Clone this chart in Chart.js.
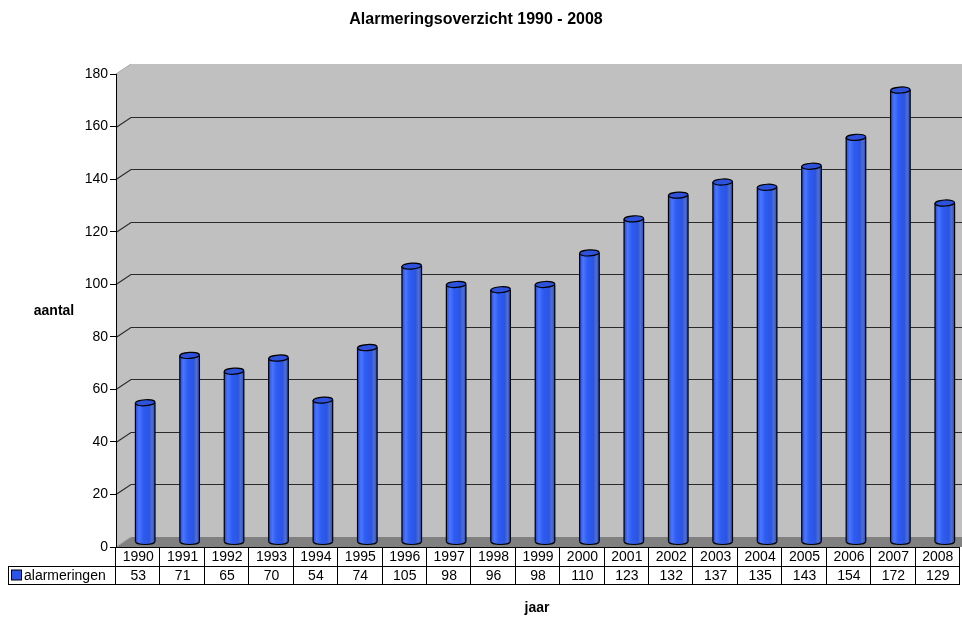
<!DOCTYPE html>
<html>
<head>
<meta charset="utf-8">
<script src="https://cdn.jsdelivr.net/npm/chart.js@4"></script>
<style>
  body { margin: 0; background: #fff; }
  canvas { display: block; }
</style>
</head>
<body>
<canvas id="myChart" width="962" height="617"></canvas>
<script>
var years = ['1990', '1991', '1992', '1993', '1994', '1995', '1996', '1997', '1998', '1999',
             '2000', '2001', '2002', '2003', '2004', '2005', '2006', '2007', '2008'];
var alarmeringen = [53, 71, 65, 70, 54, 74, 105, 98, 96, 98, 110, 123, 132, 137, 135, 143, 154, 172, 129];
var seriesName = 'alarmeringen';
var chartTitle = 'Alarmeringsoverzicht 1990 - 2008';
var yTitle = 'aantal';
var xTitle = 'jaar';

var FONT = 'Arial, "Liberation Sans", sans-serif';
var BLUE = '#2c54e6';
var DX = 15, DY = -10;   // depth of the 3d walls

// back wall, side wall, floor and the gridlines on the wall
var walls = {
  id: 'walls',
  beforeDraw(chart) {
    const c = chart.ctx, a = chart.chartArea, ys = chart.scales.y;
    const right = chart.width;
    c.save();
    c.fillStyle = '#fff';
    c.fillRect(0, 0, chart.width, chart.height);

    // back wall + side wall
    c.fillStyle = '#c0c0c0';
    c.beginPath();
    c.moveTo(a.left, a.top);
    c.lineTo(a.left + DX, a.top + DY);
    c.lineTo(right, a.top + DY);
    c.lineTo(right, a.bottom);
    c.lineTo(a.left, a.bottom);
    c.closePath();
    c.fill();
    c.strokeStyle = '#a8a8a8';
    c.lineWidth = 1;
    c.beginPath();
    c.moveTo(a.left, a.top);
    c.lineTo(a.left + DX, a.top + DY);
    c.stroke();

    // floor
    c.fillStyle = '#808080';
    c.beginPath();
    c.moveTo(a.left, a.bottom);
    c.lineTo(a.left + DX, a.bottom + DY);
    c.lineTo(right, a.bottom + DY);
    c.lineTo(right, a.bottom);
    c.closePath();
    c.fill();
    c.strokeStyle = '#a0a0a0';
    c.beginPath();
    c.moveTo(a.left, a.bottom);
    c.lineTo(a.left + DX, a.bottom + DY);
    c.stroke();

    // gridlines
    c.strokeStyle = '#2a2a2a';
    c.lineWidth = 1.2;
    ys.ticks.forEach(t => {
      if (t.value <= ys.min || t.value >= ys.max) return;
      const y = Math.round(ys.getPixelForValue(t.value)) + 0.5;
      c.beginPath();
      c.moveTo(a.left, y);
      c.lineTo(a.left + DX, y + DY);
      c.lineTo(right, y + DY);
      c.stroke();
    });
    c.restore();
  }
};

// cylinders: shift bars into the depth and add shading, tops and bottoms
var cylinders = {
  id: 'cylinders',
  beforeDatasetsDraw(chart) {
    chart.ctx.save();
    chart.ctx.translate(7, -5);
  },
  afterDatasetsDraw(chart) {
    const c = chart.ctx;
    chart.getDatasetMeta(0).data.forEach(bar => {
      const p = bar.getProps(['x', 'y', 'base', 'width'], true);
      const l = p.x - p.width / 2, r = p.x + p.width / 2;
      const g = c.createLinearGradient(l, 0, r, 0);
      g.addColorStop(0, '#2448d8');
      g.addColorStop(0.18, '#4a76ff');
      g.addColorStop(0.4, '#2e5cf2');
      g.addColorStop(0.7, '#2b54e2');
      g.addColorStop(0.85, '#5070cc');
      g.addColorStop(1, '#2a46b4');
      c.fillStyle = g;
      c.fillRect(l, p.y, p.width, p.base - p.y);
      // bottom
      c.beginPath();
      c.ellipse(p.x, p.base, p.width / 2, 3, 0, 0, Math.PI);
      c.fill();
      c.strokeStyle = '#000';
      c.lineWidth = 1.2;
      c.stroke();
      // sides
      c.beginPath();
      c.moveTo(l, p.y);
      c.lineTo(l, p.base);
      c.moveTo(r, p.y);
      c.lineTo(r, p.base);
      c.stroke();
      // top
      c.beginPath();
      c.ellipse(p.x, p.y, p.width / 2, 3, -0.06, 0, Math.PI * 2);
      c.fillStyle = '#2e52dc';
      c.fill();
      c.stroke();
    });
    c.restore();
  }
};

// data table, legend key, titles
var table = {
  id: 'table',
  afterDraw(chart) {
    const c = chart.ctx, a = chart.chartArea, xs = chart.scales.x;
    const n = years.length;
    const cw = (xs.right - xs.left) / n;
    const y0 = a.bottom, y1 = a.bottom + 18.5, y2 = a.bottom + 37;
    c.save();
    c.strokeStyle = '#000';
    c.lineWidth = 1;
    c.beginPath();
    c.moveTo(a.left, y0 + 0.5); c.lineTo(xs.right, y0 + 0.5);
    c.moveTo(8, Math.round(y1) + 0.5); c.lineTo(xs.right, Math.round(y1) + 0.5);
    c.moveTo(8, Math.round(y2) + 0.5); c.lineTo(xs.right, Math.round(y2) + 0.5);
    c.moveTo(8.5, Math.round(y1)); c.lineTo(8.5, Math.round(y2) + 1);
    for (let i = 0; i <= n; i++) {
      const x = Math.round(xs.left + i * cw) - 0.5;
      c.moveTo(x, y0);
      c.lineTo(x, Math.round(y2) + 1);
    }
    c.stroke();

    c.fillStyle = '#000';
    c.font = '14px ' + FONT;
    c.textAlign = 'center';
    c.textBaseline = 'middle';
    for (let i = 0; i < n; i++) {
      const x = xs.getPixelForValue(i);
      c.fillText(years[i], x, (y0 + y1) / 2 + 1);
      c.fillText(String(alarmeringen[i]), x, (y1 + y2) / 2 + 1);
    }

    // legend key
    c.fillStyle = BLUE;
    c.fillRect(11.5, y1 + 4.5, 10, 10);
    c.strokeRect(11.5, y1 + 4.5, 10, 10);
    c.fillStyle = '#000';
    c.textAlign = 'left';
    c.fillText(seriesName, 24, (y1 + y2) / 2 + 1);

    // titles
    c.font = 'bold 16px ' + FONT;
    c.textAlign = 'center';
    c.fillText(chartTitle, 476, 20);
    c.font = 'bold 14px ' + FONT;
    c.fillText(yTitle, 54, 311);
    c.fillText(xTitle, 537, 608);
    c.restore();
  }
};

var ctx = document.getElementById('myChart').getContext('2d');
var chart = new Chart(ctx, {
  type: 'bar',
  data: {
    labels: years,
    datasets: [{
      label: seriesName,
      data: alarmeringen,
      backgroundColor: BLUE,
      borderWidth: 0,
      barPercentage: 0.9,
      categoryPercentage: 0.49
    }]
  },
  options: {
    responsive: false,
    animation: false,
    layout: { padding: { top: 74, bottom: 70, left: 0, right: 2 } },
    plugins: {
      legend: { display: false },
      tooltip: { enabled: false },
      title: { display: false }
    },
    scales: {
      x: { display: false },
      y: {
        min: 0,
        max: 180,
        ticks: { stepSize: 20, color: '#000', font: { size: 14, family: FONT }, padding: 2 },
        grid: { drawOnChartArea: false, tickLength: 6, color: '#000' },
        border: { color: '#000' },
        afterFit(scale) { scale.width = 116; }
      }
    }
  },
  plugins: [walls, cylinders, table]
});
</script>
</body>
</html>
